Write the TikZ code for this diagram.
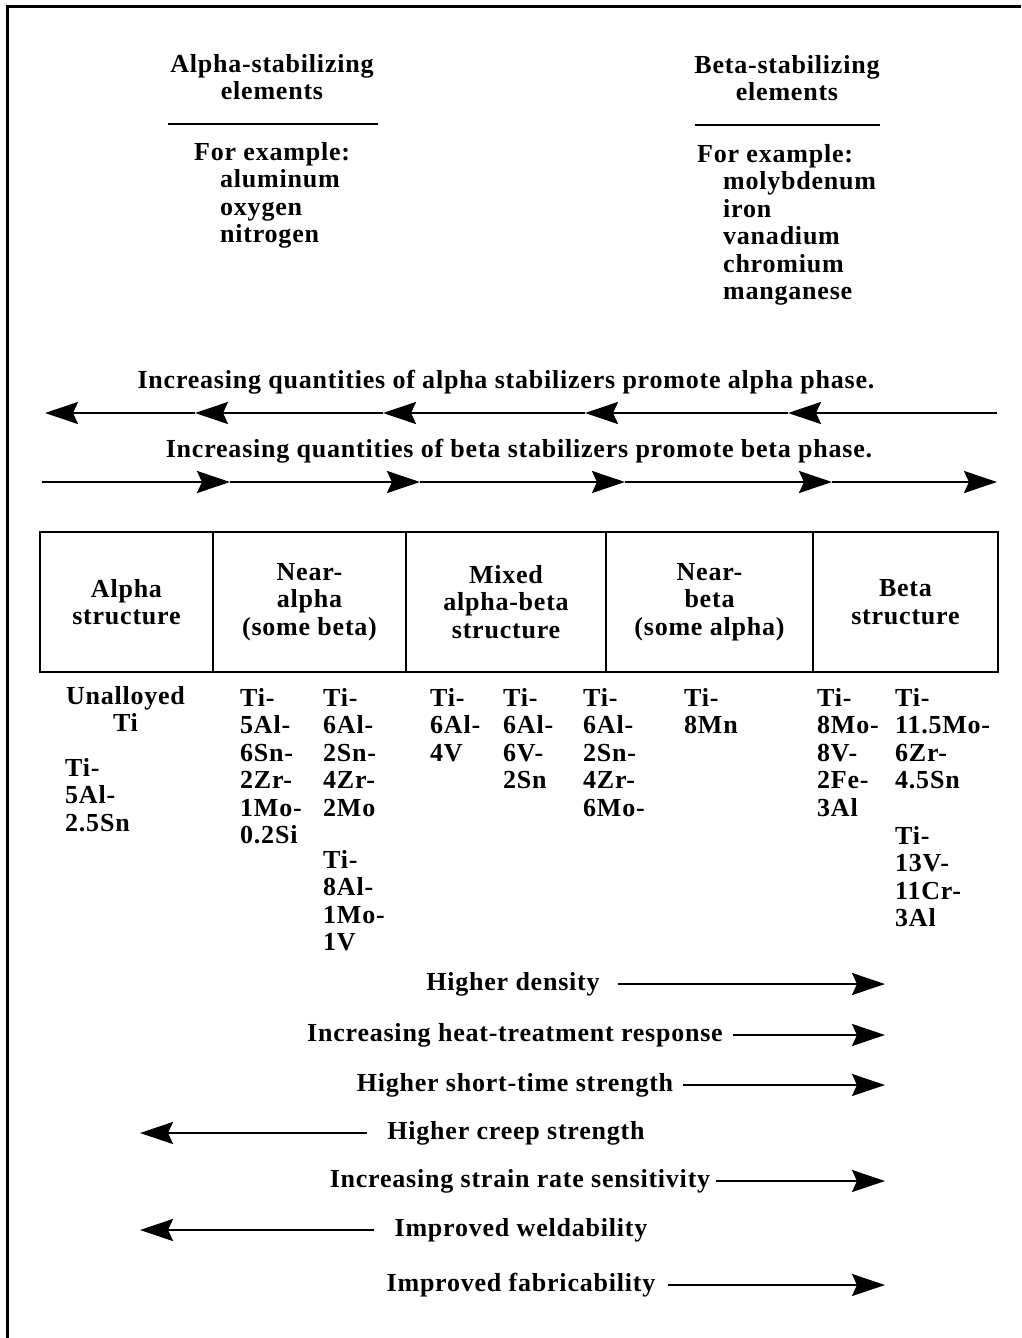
\documentclass[tikz,border=0pt]{standalone}
\usepackage{fontspec}
\setmainfont{Liberation Serif}[LetterSpace=3]
\usetikzlibrary{positioning,arrows.meta}

\begin{document}
\begin{tikzpicture}[x=1pt, y=-1pt, >={Stealth[length=33pt,width=22pt,inset=5pt]},
  every node/.style={font=\bfseries\fontsize{26}{27.5}\selectfont, inner sep=0pt},
  lbl/.style={align=left, anchor=north west},
  cell/.style={draw, line width=2.5pt, minimum height=140pt, align=center},
  bar/.style={line width=2.5pt},
  prop/.style={->, line width=2.5pt}]
  \useasboundingbox (0,0) rectangle (1021,1338);
  \draw[line width=3pt] (7,1338) -- (7,7) -- (1021,7);

  \node[align=center, anchor=north] (ahead) at (272,54) {Alpha-stabilizing\\elements};
  \draw[bar] (168,124) -- (378,124);
  \node[lbl] (aex) at (194,142) {For example:\\\hspace*{26pt}aluminum\\\hspace*{26pt}oxygen\\\hspace*{26pt}nitrogen};
  \node[align=center, anchor=north] (bhead) at (787,55) {Beta-stabilizing\\elements};
  \draw[bar] (695,125) -- (880,125);
  \node[lbl] (bex) at (697,144) {For example:\\\hspace*{26pt}molybdenum\\\hspace*{26pt}iron\\\hspace*{26pt}vanadium\\\hspace*{26pt}chromium\\\hspace*{26pt}manganese};

  \node (atxt) at (506,382) {Increasing quantities of alpha stabilizers promote alpha phase.};
  \coordinate (a0) at (997,413);
  \coordinate (a1) at (788,413);
  \coordinate (a2) at (585,413);
  \coordinate (a3) at (383,413);
  \coordinate (a4) at (195,413);
  \coordinate (a5) at (45,413);
  \foreach \i/\j in {a0/a1,a1/a2,a2/a3,a3/a4,a4/a5}
    \draw[prop] (\i) -- (\j);

  \node (btxt) at (519,451) {Increasing quantities of beta stabilizers promote beta phase.};
  \coordinate (b0) at (42,482);
  \coordinate (b1) at (230,482);
  \coordinate (b2) at (420,482);
  \coordinate (b3) at (625,482);
  \coordinate (b4) at (832,482);
  \coordinate (b5) at (997,482);
  \foreach \i/\j in {b0/b1,b1/b2,b2/b3,b3/b4,b4/b5}
    \draw[prop] (\i) -- (\j);

  \node[cell, minimum width=173pt] (alpha) at (126.5,602) {Alpha\\structure};
  \node[cell, minimum width=193pt] (nalpha) at (309.5,602) {Near-\\alpha\\(some beta)};
  \node[cell, minimum width=200pt] (mixed) at (506,602) {Mixed\\alpha-beta\\structure};
  \node[cell, minimum width=207pt] (nbeta) at (709.5,602) {Near-\\beta\\(some alpha)};
  \node[cell, minimum width=185pt] (beta) at (905.5,602) {Beta\\structure};

  \node[align=center, anchor=north] (unal) at (125.5,686) {Unalloyed\\Ti};
  \node[lbl] (t1) at (65,758) {Ti-\\5Al-\\2.5Sn};
  \node[lbl] (t2) at (240,688) {Ti-\\5Al-\\6Sn-\\2Zr-\\1Mo-\\0.2Si};
  \node[lbl] (t3) at (323,688) {Ti-\\6Al-\\2Sn-\\4Zr-\\2Mo};
  \node[lbl] (t4) at (323,850) {Ti-\\8Al-\\1Mo-\\1V};
  \node[lbl] (t5) at (430,688) {Ti-\\6Al-\\4V};
  \node[lbl] (t6) at (503,688) {Ti-\\6Al-\\6V-\\2Sn};
  \node[lbl] (t7) at (583,688) {Ti-\\6Al-\\2Sn-\\4Zr-\\6Mo-};
  \node[lbl] (t8) at (684,688) {Ti-\\8Mn};
  \node[lbl] (t9) at (817,688) {Ti-\\8Mo-\\8V-\\2Fe-\\3Al};
  \node[lbl] (t10) at (895,688) {Ti-\\11.5Mo-\\6Zr-\\4.5Sn};
  \node[lbl] (t11) at (895,826) {Ti-\\13V-\\11Cr-\\3Al};

  \coordinate (rt) at (885,0);
  \coordinate (lt) at (140,0);
  \node (dens) at (513,984) {Higher density};
  \node (heat) at (515,1035) {Increasing heat-treatment response};
  \node (short) at (515,1085) {Higher short-time strength};
  \node (creep) at (516,1133) {Higher creep strength};
  \node (strain) at (520,1181) {Increasing strain rate sensitivity};
  \node (weld) at (521,1230) {Improved weldability};
  \node (fab) at (521,1285) {Improved fabricability};
  \draw[prop] ([xshift=18pt]dens.east) -- (dens.east -| rt);
  \draw[prop] ([xshift=10pt]heat.east) -- (heat.east -| rt);
  \draw[prop] ([xshift=10pt]short.east) -- (short.east -| rt);
  \draw[prop] ([xshift=-20pt]creep.west) -- (creep.west -| lt);
  \draw[prop] ([xshift=6pt]strain.east) -- (strain.east -| rt);
  \draw[prop] ([xshift=-20pt]weld.west) -- (weld.west -| lt);
  \draw[prop] ([xshift=12pt]fab.east) -- (fab.east -| rt);
\end{tikzpicture}
\end{document}
